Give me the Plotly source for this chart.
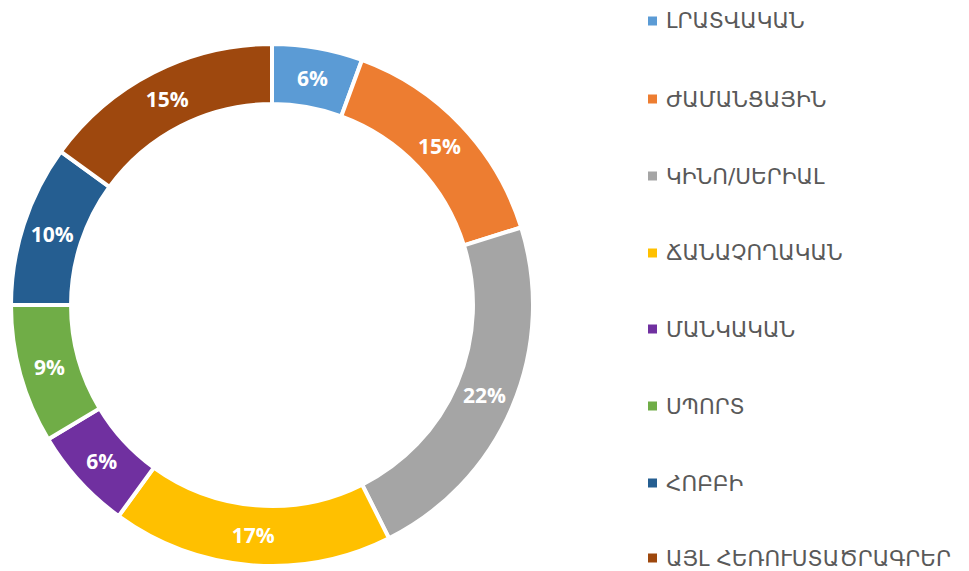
import plotly.graph_objects as go

categories = ["ԼՐԱՏՎԱԿԱՆ", "ԺԱՄԱՆՑԱՅԻՆ", "ԿԻՆՈ/ՍԵՐԻԱԼ", "ՃԱՆԱՉՈՂԱԿԱՆ",
              "ՄԱՆԿԱԿԱՆ", "ՍՊՈՐՏ", "ՀՈԲԲԻ", "ԱՅԼ ՀԵՌՈՒՍՏԱԾՐԱԳՐԵՐ"]
values = [5.6, 14.6, 22.4, 17.4, 6.4, 8.6, 10.0, 15.0]
colors = ["#5B9BD5", "#ED7D31", "#A5A5A5", "#FFC000",
          "#7030A0", "#70AD47", "#255E91", "#9E480E"]

# page body has an 8px margin; figure sized to fit window
OFF = 8
W, H = 969 - OFF, 571 - OFF

fig = go.Figure()
fig.add_trace(go.Pie(
    labels=categories, values=values, hole=0.77, sort=False,
    direction="clockwise", rotation=0,
    marker=dict(colors=colors, line=dict(color="white", width=4)),
    texttemplate="%{percent:.0%}", textposition="inside",
    insidetextorientation="horizontal",
    textfont=dict(family="Open Sans", size=21, color="white", weight="bold"),
    domain=dict(x=[(11 - OFF) / W, (533 - OFF) / W],
                y=[(571 - 566) / H, (571 - 44) / H]),
    showlegend=False, hoverinfo="label+percent",
))

# legend drawn as squares + labels
item_y = [21, 99, 176, 253, 329, 406, 483, 558]
annotations = []
shapes = []
for yp, c, col in zip(item_y, categories, colors):
    fy = 1 - (yp - OFF) / H
    annotations.append(dict(
        x=(664 - OFF) / W, y=fy, xref="paper", yref="paper",
        xanchor="left", yanchor="middle", showarrow=False, text=c,
        font=dict(family="DejaVu Sans", size=21.5, color="#595959"),
    ))
    shapes.append(dict(
        type="rect", xref="paper", yref="paper",
        x0=(648 - OFF) / W, x1=(657 - OFF) / W,
        y0=1 - (yp - 4.5 - OFF) / H, y1=1 - (yp + 4.5 - OFF) / H,
        fillcolor=col, line=dict(width=0),
    ))

fig.update_layout(
    width=W, height=H,
    margin=dict(l=0, r=0, t=0, b=0),
    paper_bgcolor="white", plot_bgcolor="white",
    annotations=annotations, shapes=shapes,
    showlegend=False,
)

fig.write_html("out.html")
